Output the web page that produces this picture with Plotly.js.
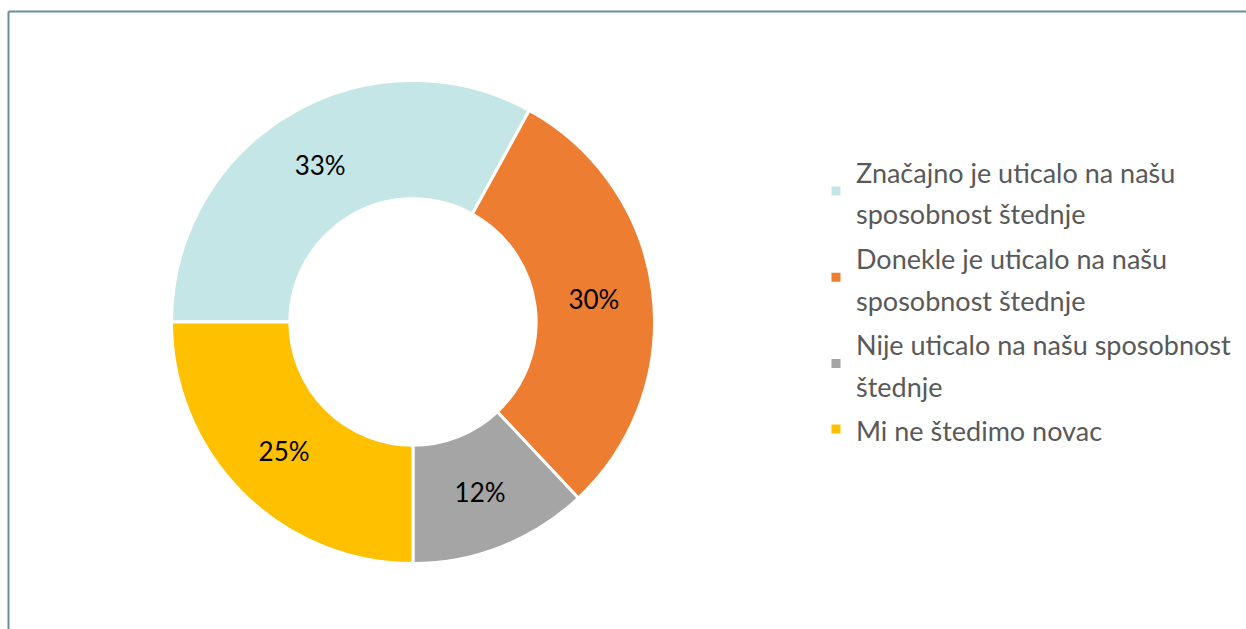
<!DOCTYPE html>
<html>
<head>
<meta charset="utf-8">
<script src="https://cdn.plot.ly/plotly-3.0.1.min.js"></script>
<style>
  html, body { margin: 0; padding: 0; background: #ffffff; }
  #chart { width: 1246px; height: 629px; }
</style>
</head>
<body>
<div id="chart"></div>
<script>
// Categories (legend labels, wrapped as in the reference)
const categories = [
  "Značajno je uticalo na našu<br>sposobnost štednje",
  "Donekle je uticalo na našu<br>sposobnost štednje",
  "Nije uticalo na našu sposobnost<br>štednje",
  "Mi ne štedimo novac"
];
// Shares in percent
const values = [33, 30, 12, 25];
const sliceColors = ["#C5E6E6", "#ED7D31", "#A5A5A5", "#FFC000"];

const FONT = "Lato, 'Open Sans', sans-serif";
const legendTextSize = 27;

function styledLabel(lbl) {
  return lbl.split("<br>").map(s => `<span style="font-size:${legendTextSize}px">${s}</span>`).join("<br>");
}

const W = 1246, H = 629;
const cx = 413, cy = 322, R = 241.5;

const trace = {
  type: "pie",
  labels: categories.map(styledLabel),
  values: values,
  sort: false,
  direction: "clockwise",
  rotation: 270,
  hole: 0.51,
  marker: { colors: sliceColors, line: { color: "#ffffff", width: 3 } },
  texttemplate: "%{value}%",
  textinfo: "text",
  textposition: "inside",
  insidetextorientation: "horizontal",
  textfont: { family: FONT, size: 26, color: "#000000" },
  hoverinfo: "label+percent",
  domain: {
    x: [(cx - R) / W, (cx + R) / W],
    y: [(H - cy - R) / H, (H - cy + R) / H]
  }
};

const layout = {
  width: W,
  height: H,
  margin: { l: 0, r: 0, t: 0, b: 0 },
  paper_bgcolor: "#ffffff",
  showlegend: true,
  legend: {
    x: 816 / W,
    xanchor: "left",
    y: 1 - 143 / H,
    yanchor: "top",
    font: { family: FONT, size: 32, color: "#595959" },
    bgcolor: "rgba(0,0,0,0)",
    traceorder: "normal"
  },
  shapes: [
    { type: "line", xref: "paper", yref: "paper", x0: 8.5 / W, x1: 1, y0: 1 - 11.5 / H, y1: 1 - 11.5 / H,
      line: { color: "#6B8E9C", width: 2 } },
    { type: "line", xref: "paper", yref: "paper", x0: 8.5 / W, x1: 8.5 / W, y0: 0, y1: 1 - 11.5 / H,
      line: { color: "#6B8E9C", width: 2 } }
  ]
};

Plotly.newPlot("chart", [trace], layout, { displayModeBar: false, staticPlot: true });
</script>
</body>
</html>
